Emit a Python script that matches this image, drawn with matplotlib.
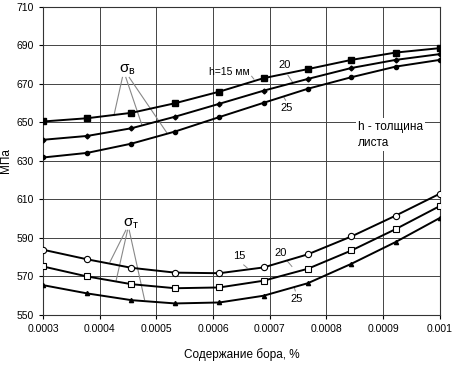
import matplotlib
matplotlib.use('Agg')
import matplotlib.pyplot as plt

plt.rcParams['font.family'] = ['Liberation Sans', 'DejaVu Sans']

# содержание бора, %
boron = [0.0003, 0.000378, 0.000456, 0.000533, 0.000611,
         0.000689, 0.000767, 0.000844, 0.000922, 0.001]

# предел прочности sigma_v, МПа (h = 15, 20, 25 мм)
sv_15 = [650.5, 652.2, 655.0, 660.0, 666.0, 673.0, 677.7, 682.5, 686.3, 688.6]
sv_20 = [641.0, 643.0, 647.0, 653.0, 659.7, 666.5, 672.6, 678.3, 682.5, 685.5]
sv_25 = [631.8, 634.2, 639.0, 645.3, 652.8, 660.2, 667.5, 673.5, 679.0, 682.5]

# предел текучести sigma_t, МПа
st_15 = [583.9, 578.9, 574.5, 572.0, 571.7, 574.7, 581.5, 590.8, 601.6, 613.0]
st_20 = [575.2, 570.0, 566.0, 563.9, 564.3, 567.8, 574.0, 583.5, 594.6, 606.6]
st_25 = [565.5, 561.2, 557.7, 556.0, 556.5, 560.0, 566.5, 576.6, 587.9, 600.4]

x_ticks = [0.0003, 0.0004, 0.0005, 0.0006, 0.0007, 0.0008, 0.0009, 0.001]
x_tick_labels = ['0.0003', '0.0004', '0.0005', '0.0006', '0.0007', '0.0008', '0.0009', '0.001']
y_ticks = [550, 570, 590, 610, 630, 650, 670, 690, 710]

fig = plt.figure(figsize=(4.63, 3.65), dpi=100)
ax = fig.add_axes([0.093, 0.137, 0.857, 0.844])

lw = 1.4
ax.plot(boron, sv_15, '-', color='black', lw=lw, marker='s', ms=4, mfc='black', zorder=3)
ax.plot(boron, sv_20, '-', color='black', lw=lw, marker='D', ms=2.5, mfc='black', zorder=3)
ax.plot(boron, sv_25, '-', color='black', lw=lw, marker='o', ms=3, mfc='black', zorder=3)
ax.plot(boron, st_15, '-', color='black', lw=lw, marker='o', ms=4.5, mfc='white', mew=0.8, zorder=3)
ax.plot(boron, st_20, '-', color='black', lw=lw, marker='s', ms=5, mfc='white', mew=0.8, zorder=3)
ax.plot(boron, st_25, '-', color='black', lw=lw, marker='^', ms=3, mfc='black', zorder=3)

ax.set_xlim(0.0003, 0.001)
ax.set_ylim(550, 710)
ax.set_xticks(x_ticks)
ax.set_xticklabels(x_tick_labels)
ax.set_yticks(y_ticks)
ax.tick_params(labelsize=7.5, length=3, width=0.8, color='black')
ax.grid(True, color='#444444', lw=0.7)
for s in ax.spines.values():
    s.set_linewidth(0.8)
    s.set_color('#333333')

ax.set_xlabel('Содержание бора, %', fontsize=8.5, labelpad=10)
ax.set_ylabel('МПа', fontsize=8.5, labelpad=3)

grey = '#888888'
# sigma_v label and leaders
ax.text(0.000448, 673.5, r'$\mathregular{\sigma_в}$', fontsize=11, ha='center', va='bottom')
for xs, xe, ye in [(0.00044, 0.000425, 653.6), (0.000446, 0.000474, 649.0),
                   (0.000452, 0.000518, 644.8)]:
    ax.plot([xs, xe], [673.4, ye], color=grey, lw=0.8, zorder=2)

# sigma_t label and leaders
ax.text(0.000455, 593.5, r'$\mathregular{\sigma_т}$', fontsize=11, ha='center', va='bottom')
for xs, xe, ye in [(0.000446, 0.000418, 577.5), (0.000449, 0.000429, 568.0),
                   (0.000452, 0.000479, 558.0)]:
    ax.plot([xs, xe], [594, ye], color=grey, lw=0.8, zorder=2)

fs = 8
ax.text(0.000593, 676, 'h=15 мм', fontsize=7.5, ha='left', va='center')
ax.plot([0.000668, 0.000672], [674, 672.5], color=grey, lw=0.7)
ax.text(0.000726, 680, '20', fontsize=fs, ha='center', va='center')
ax.plot([0.000732, 0.00074], [674.5, 671], color=grey, lw=0.7)
ax.text(0.00073, 657.5, '25', fontsize=fs, ha='center', va='center')
ax.plot([0.000725, 0.000728], [663, 661.5], color=grey, lw=0.7)

ax.text(0.000855, 651, 'h - толщина\nлиста', fontsize=8.5, ha='left', va='top',
        linespacing=1.5, bbox=dict(fc='white', ec='none', pad=1.5), zorder=4)

ax.text(0.000646, 580.5, '15', fontsize=fs, ha='center', va='center')
ax.plot([0.000654, 0.00066], [576, 574.5], color=grey, lw=0.7)
ax.text(0.000719, 582, '20', fontsize=fs, ha='center', va='center')
ax.plot([0.00073, 0.000739], [578.3, 575.2], color=grey, lw=0.7)
ax.text(0.000747, 558.5, '25', fontsize=fs, ha='center', va='center')
ax.plot([0.000745, 0.000743], [562.5, 564.5], color=grey, lw=0.7)

fig.savefig('out.png', dpi=100)
